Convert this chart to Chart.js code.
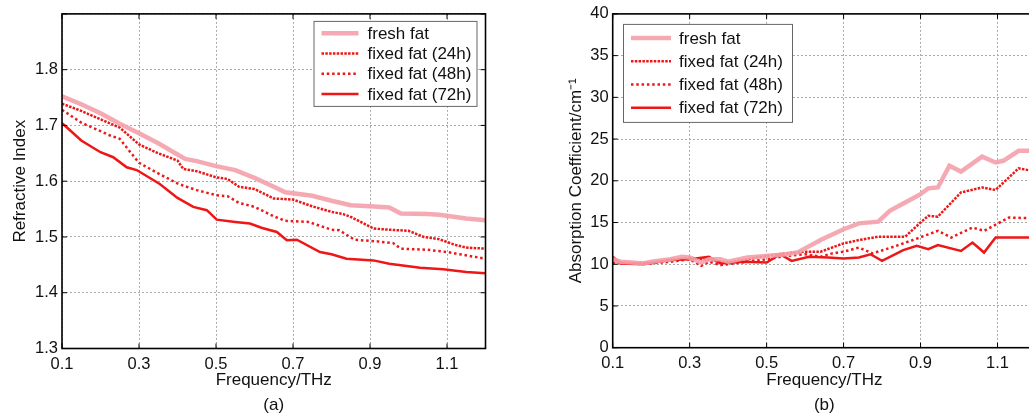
<!DOCTYPE html>
<html>
<head>
<meta charset="utf-8">
<script src="https://cdn.jsdelivr.net/npm/chart.js@4/dist/chart.umd.min.js"></script>
<style>
html,body{margin:0;padding:0;background:#fff;}
body{width:1029px;height:418px;overflow:hidden;position:relative;}
#wa{position:absolute;left:0;top:0;}
#wb{position:absolute;left:515px;top:0;}
</style>
</head>
<body>
<div id="wa"><canvas id="ca" width="515" height="418"></canvas></div>
<div id="wb"><canvas id="cb" width="560" height="418"></canvas></div>
<script>
// ---------- Data: panel (a) Refractive Index ----------
const freshA_x = [0.10,0.15,0.20,0.25,0.30,0.35,0.40,0.42,0.45,0.50,0.55,0.60,0.65,0.68,0.75,0.80,0.85,0.90,0.95,0.98,1.05,1.08,1.15,1.20];
const freshA_y = [1.752,1.738,1.722,1.703,1.686,1.668,1.648,1.640,1.636,1.627,1.620,1.606,1.590,1.580,1.574,1.565,1.557,1.555,1.553,1.542,1.541,1.540,1.533,1.530];
const h24A_x = [0.10,0.15,0.20,0.25,0.29,0.30,0.35,0.40,0.415,0.45,0.50,0.53,0.56,0.60,0.65,0.70,0.75,0.80,0.83,0.85,0.91,0.95,1.00,1.04,1.08,1.12,1.15,1.20];
const h24A_y = [1.739,1.726,1.711,1.696,1.672,1.666,1.650,1.637,1.622,1.618,1.607,1.604,1.590,1.586,1.569,1.567,1.555,1.545,1.541,1.536,1.515,1.513,1.511,1.500,1.496,1.486,1.481,1.479];
const h48A_x = [0.10,0.15,0.225,0.25,0.28,0.30,0.35,0.40,0.415,0.45,0.50,0.53,0.56,0.60,0.65,0.68,0.74,0.80,0.82,0.86,0.92,0.96,0.98,1.05,1.10,1.20];
const h48A_y = [1.728,1.705,1.682,1.676,1.650,1.633,1.614,1.596,1.592,1.584,1.575,1.573,1.561,1.554,1.537,1.529,1.527,1.513,1.512,1.495,1.492,1.489,1.479,1.477,1.473,1.461];
const h72A_x = [0.10,0.11,0.15,0.20,0.233,0.268,0.294,0.354,0.40,0.441,0.476,0.502,0.55,0.588,0.62,0.658,0.684,0.71,0.77,0.80,0.839,0.909,0.95,1.03,1.09,1.15,1.20];
const h72A_y = [1.704,1.698,1.673,1.652,1.643,1.625,1.620,1.595,1.570,1.554,1.548,1.531,1.527,1.524,1.516,1.509,1.494,1.495,1.473,1.469,1.461,1.458,1.452,1.445,1.442,1.437,1.435];

// ---------- Data: panel (b) Absorption Coefficient ----------
const freshB_x = [0.10,0.12,0.15,0.18,0.20,0.25,0.28,0.30,0.33,0.35,0.38,0.40,0.45,0.50,0.55,0.58,0.60,0.64,0.70,0.74,0.79,0.82,0.86,0.90,0.92,0.945,0.975,1.005,1.06,1.095,1.115,1.155,1.20];
const freshB_y = [10.6,10.3,10.2,10.1,10.3,10.6,10.9,10.8,10.2,10.6,10.6,10.3,10.8,11.0,11.2,11.4,11.9,12.9,14.2,14.9,15.1,16.4,17.4,18.4,19.1,19.2,21.8,21.1,22.9,22.2,22.4,23.6,23.6];
const h24B_x = [0.10,0.15,0.20,0.25,0.30,0.35,0.40,0.45,0.50,0.55,0.60,0.64,0.70,0.74,0.79,0.86,0.90,0.92,0.945,1.005,1.06,1.095,1.155,1.20];
const h24B_y = [10.3,10.1,10.2,10.5,10.8,10.5,10.2,10.6,11.0,11.3,11.5,11.5,12.5,12.9,13.3,13.3,15.0,15.8,15.7,18.6,19.2,18.9,21.5,21.1];
const h48B_x = [0.10,0.15,0.20,0.25,0.30,0.33,0.35,0.38,0.40,0.45,0.50,0.55,0.60,0.64,0.67,0.70,0.74,0.775,0.83,0.88,0.945,0.98,1.035,1.065,1.13,1.20];
const h48B_y = [10.2,10.1,10.1,10.3,10.6,9.8,10.3,9.9,10.0,10.3,10.6,11.0,11.2,10.9,11.3,11.5,12.0,11.3,12.1,12.9,14.0,13.2,14.4,14.0,15.6,15.5];
const h72B_x = [0.10,0.12,0.18,0.25,0.30,0.35,0.38,0.44,0.50,0.535,0.565,0.61,0.66,0.70,0.74,0.77,0.80,0.855,0.89,0.92,0.945,1.005,1.035,1.065,1.095,1.20];
const h72B_y = [10.9,10.1,10.0,10.5,10.6,10.9,10.1,10.3,10.2,11.2,10.4,10.9,10.8,10.7,10.8,11.2,10.4,11.7,12.2,11.8,12.3,11.6,12.6,11.4,13.2,13.2];

// ---------- Labels / ticks ----------
const seriesLabels = ['fresh fat','fixed fat (24h)','fixed fat (48h)','fixed fat (72h)'];
const xTicks = [0.1,0.3,0.5,0.7,0.9,1.1];
const yTicksA = [1.3,1.4,1.5,1.6,1.7,1.8,1.9];
const yTicksB = [0,5,10,15,20,25,30,35,40];

const pts = (xs, ys) => xs.map((x, i) => ({x, y: ys[i]}));
const FONT = 'Liberation Sans, Arial, Helvetica, sans-serif';
const RED = 'rgb(238,22,22)';
const PINK = 'rgba(244,160,170,0.9)';

function makeDatasets(f, a, b, c) {
  return [
    {label: seriesLabels[0], data: f, borderColor: PINK, borderWidth: 4.5, borderDash: []},
    {label: seriesLabels[1], data: a, borderColor: RED, borderWidth: 2.5, borderDash: [2.5, 1.3]},
    {label: seriesLabels[2], data: b, borderColor: RED, borderWidth: 2.5, borderDash: [2.5, 2.8]},
    {label: seriesLabels[3], data: c, borderColor: RED, borderWidth: 2.5, borderDash: []}
  ].map(d => Object.assign(d, {pointRadius: 0, tension: 0, fill: false}));
}

const framePlugin = {
  id: 'frame',
  afterDraw(chart, args, opts) {
    const {ctx, chartArea: a, scales} = chart;
    ctx.save();
    ctx.strokeStyle = '#000';
    ctx.lineWidth = 1;
    ctx.setLineDash([]);
    const tl = 5;
    const seg = (x1, y1, x2, y2) => { ctx.beginPath(); ctx.moveTo(x1, y1); ctx.lineTo(x2, y2); ctx.stroke(); };
    scales.x.ticks.forEach(t => {
      const p = scales.x.getPixelForValue(t.value);
      seg(p, a.bottom, p, a.bottom - tl); seg(p, a.top, p, a.top + tl);
    });
    scales.y.ticks.forEach(t => {
      const p = scales.y.getPixelForValue(t.value);
      seg(a.left, p, a.left + tl, p); seg(a.right, p, a.right - tl, p);
    });
    ctx.lineWidth = 1.6;
    ctx.strokeRect(a.left, a.top, a.right - a.left, a.bottom - a.top);
    // legend
    const L = opts;
    const bx = L.side === 'right' ? a.right - L.offX - L.w : a.left + L.offX;
    const by = a.top + L.offY;
    ctx.fillStyle = '#fff';
    ctx.fillRect(bx, by, L.w, L.h);
    ctx.strokeStyle = '#666';
    ctx.lineWidth = 1;
    ctx.strokeRect(bx + 0.5, by + 0.5, L.w, L.h);
    ctx.font = '17px ' + FONT;
    ctx.textBaseline = 'middle';
    ctx.fillStyle = '#111';
    chart.data.datasets.forEach((d, i) => {
      const y = by + L.first + i * L.step;
      ctx.strokeStyle = d.borderColor;
      ctx.lineWidth = d.borderWidth;
      ctx.setLineDash(d.borderDash || []);
      seg(bx + L.s0, y, bx + L.s1, y);
      ctx.setLineDash([]);
      ctx.fillText(d.label, bx + L.tx, y + 1);
    });
    ctx.restore();
  }
};

function makeChart(id, datasets, yMin, yMax, yTicks, yTitle, panel, yw, xh, pad, yTitlePad, legend, hideTop) {
  return new Chart(document.getElementById(id), {
    type: 'line',
    data: {datasets},
    plugins: [framePlugin],
    options: {
      responsive: false,
      animation: false,
      devicePixelRatio: 1,
      layout: {padding: pad},
      plugins: {legend: {display: false}, tooltip: {enabled: false}, frame: legend},
      scales: {
        x: {
          type: 'linear', min: 0.1, max: 1.2,
          afterBuildTicks: s => { s.ticks = xTicks.map(v => ({value: v})); },
          afterFit: s => { s.height = xh; },
          ticks: {color: '#111', font: {family: FONT, size: 16.5}, padding: 6, maxRotation: 0,
                  callback: v => v.toFixed(1)},
          grid: {color: '#aaa', lineWidth: 1, drawTicks: false},
          border: {display: false, dash: [2, 2]},
          title: {display: true, text: ['Frequency/THz', panel], color: '#111',
                  font: {family: FONT, size: 17, lineHeight: '25px'}, padding: {top: 0, bottom: 0}}
        },
        y: {
          type: 'linear', min: yMin, max: yMax,
          afterBuildTicks: s => { s.ticks = yTicks.map(v => ({value: v})); },
          afterFit: s => { s.width = yw; },
          ticks: {color: '#111', font: {family: FONT, size: 16.5}, padding: 4,
                  callback: v => (hideTop && v === yMax) ? '' : (yMax < 5 ? v.toFixed(1) : String(v))},
          grid: {color: '#aaa', lineWidth: 1, drawTicks: false},
          border: {display: false, dash: [2, 2]},
          title: {display: true, text: yTitle, color: '#111',
                  font: {family: FONT, size: 17}, padding: {top: yTitlePad, bottom: 0}}
        }
      }
    }
  });
}

makeChart('ca',
  makeDatasets(pts(freshA_x, freshA_y), pts(h24A_x, h24A_y), pts(h48A_x, h48A_y), pts(h72A_x, h72A_y)),
  1.3, 1.9, yTicksA, 'Refractive Index', '(a)', 62, 69.5,
  {left: 0, top: 13, right: 29.5, bottom: 0}, 10,
  {side: 'right', offX: 9, offY: 7, w: 163, h: 85, first: 12.3, step: 20.3, s0: 8, s1: 45, tx: 54},
  true);

makeChart('cb',
  makeDatasets(pts(freshB_x, freshB_y), pts(h24B_x, h24B_y), pts(h48B_x, h48B_y), pts(h72B_x, h72B_y)),
  0, 40, yTicksB, 'Absorption Coefficient/cm\u207B\u00B9', '(b)', 97.7, 70.3,
  {left: 0, top: 13, right: 39, bottom: 0}, 51,
  {side: 'left', offX: 10.3, offY: 10, w: 169, h: 98, first: 14, step: 23.3, s0: 8, s1: 48, tx: 56},
  false);
</script>
</body>
</html>
